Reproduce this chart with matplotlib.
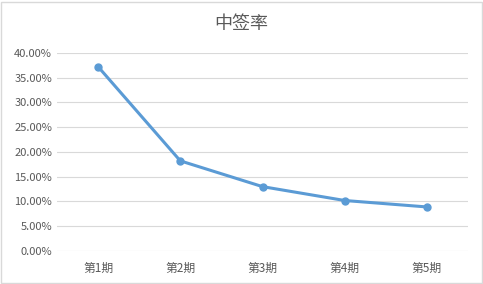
import matplotlib.pyplot as plt
from matplotlib.ticker import FuncFormatter

plt.rcParams['font.family'] = ['Noto Sans CJK SC', 'DejaVu Sans']

periods = ['第1期', '第2期', '第3期', '第4期', '第5期']
rates = [0.372, 0.182, 0.130, 0.102, 0.089]
yticks = [0.0, 0.05, 0.10, 0.15, 0.20, 0.25, 0.30, 0.35, 0.40]

fig = plt.figure(figsize=(4.83, 2.84), dpi=100)
ax = fig.add_axes([0.118, 0.116, 0.851, 0.698])

x = range(len(periods))
ax.plot(x, rates, color='#5B9BD5', lw=2.2, marker='o', ms=5, solid_capstyle='round')

ax.set_xlim(-0.5, len(periods) - 0.5)
ax.set_ylim(0, 0.4)
ax.set_yticks(yticks)
ax.yaxis.set_major_formatter(FuncFormatter(lambda v, p: '%.2f%%' % (v * 100)))
ax.set_xticks(list(x))
ax.set_xticklabels(periods)
ax.tick_params(length=0, colors='#595959', labelsize=8)
ax.tick_params(axis='x', pad=8, labelsize=8.5)
ax.grid(axis='y', color='#D9D9D9', lw=0.8)
ax.set_axisbelow(True)
for s in ax.spines.values():
    s.set_visible(False)

fig.text(0.5, 0.915, '中签率', ha='center', va='center', fontsize=13, color='#595959')

# outer border
fig.patches.append(plt.Rectangle((0.002, 0.004), 0.996, 0.99, transform=fig.transFigure,
                                 fill=False, edgecolor='#D9D9D9', lw=1))

fig.savefig('out.png', dpi=100)
